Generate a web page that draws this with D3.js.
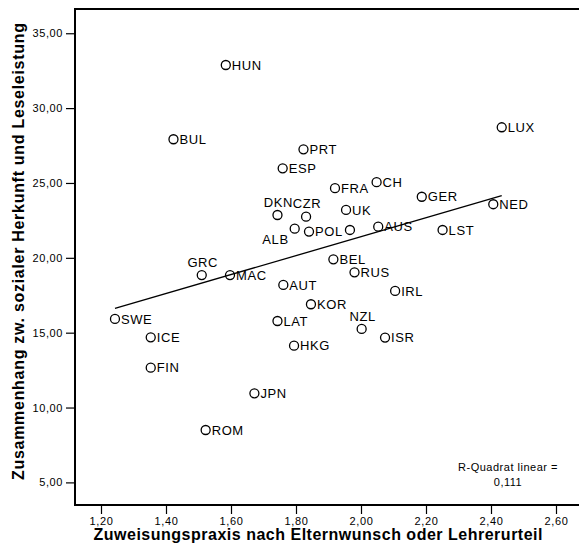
<!DOCTYPE html>
<html>
<head>
<meta charset="utf-8">
<script src="https://cdn.jsdelivr.net/npm/d3@7"></script>
<style>
  html, body { margin: 0; padding: 0; background: #fff; }
  svg { display: block; }
  text { font-family: Arial, "Liberation Sans", sans-serif; fill: #000; }
</style>
</head>
<body>
<script>
// Countries (labels), mean placement practice (x) and SES–reading gradient (y)
const countries = ["HUN","BUL","LUX","PRT","ESP","FRA","CH","GER","NED","DKN","CZR","UK",
  "ALB","POL","","AUS","LST","BEL","RUS","IRL","AUT","KOR","GRC","MAC","SWE","ICE","FIN",
  "JPN","ROM","LAT","HKG","NZL","ISR"];
const placement = [1.584,1.423,2.433,1.823,1.759,1.920,2.048,2.187,2.407,1.743,1.831,1.954,
  1.796,1.840,1.966,2.053,2.251,1.915,1.980,2.105,1.761,1.846,1.510,1.597,1.243,1.353,1.353,
  1.672,1.522,1.743,1.794,2.002,2.074];
const gradient = [32.88,27.92,28.72,27.25,25.98,24.65,25.05,24.08,23.58,22.86,22.75,23.20,
  21.95,21.75,21.86,22.08,21.86,19.90,19.03,17.79,18.19,16.90,18.85,18.85,15.92,14.69,12.66,
  10.95,8.50,15.78,14.13,15.25,14.67];
// label placement: r = right of marker, a = above, bl = below-left
const labelPos = {DKN: "a", CZR: "a", GRC: "a", NZL: "a", ALB: "bl"};

// Linear fit: intercept, slope; R² as reported
const fitCoef = [8.77, 6.32];
const rSquared = "0,111";

const xTicks = [1.2,1.4,1.6,1.8,2.0,2.2,2.4,2.6];
const yTicks = [5,10,15,20,25,30,35];

const xTitle = "Zuweisungspraxis nach Elternwunsch oder Lehrerurteil";
const yTitle = "Zusammenhang zw. sozialer Herkunft und Leseleistung";

(function () {
  const W = 579, H = 555;
  const mLeft = 75, mTop = 9, mBottom = 505, mRight = 582;

  const svg = d3.select("body").append("svg").attr("width", W).attr("height", H);

  const x = d3.scaleLinear().domain([1.12, 2.68]).range([mLeft, mRight]);
  const y = d3.scaleLinear().domain([3.49, 36.62]).range([mBottom, mTop]);

  const fmt = v => d3.format(".2f")(v).replace(".", ",");

  // axes
  const xAxis = svg.append("g").attr("transform", `translate(0,${mBottom})`)
    .call(d3.axisBottom(x).tickValues(xTicks).tickFormat(fmt).tickSize(9).tickPadding(3).tickSizeOuter(0));
  const yAxis = svg.append("g").attr("transform", `translate(${mLeft},0)`)
    .call(d3.axisLeft(y).tickValues(yTicks).tickFormat(fmt).tickSize(9).tickPadding(3).tickSizeOuter(0));
  [xAxis, yAxis].forEach(g => {
    g.select(".domain").remove();
    g.selectAll(".tick line").attr("stroke", "#000").attr("stroke-width", 1.2);
    g.selectAll(".tick text").attr("font-size", 11).style("letter-spacing", "0.6px")
      .attr("font-family", "Arial, 'Liberation Sans', sans-serif").attr("fill", "#000");
  });

  // frame (left, top, bottom)
  svg.append("path")
    .attr("d", `M${mRight},${mTop}H${mLeft}V${mBottom}H${mRight}`)
    .attr("fill", "none").attr("stroke", "#000").attr("stroke-width", 2);

  // regression line across the data range
  const [xmin, xmax] = d3.extent(placement);
  const fitY = v => fitCoef[0] + fitCoef[1] * v;
  svg.append("line")
    .attr("x1", x(xmin)).attr("y1", y(fitY(xmin)))
    .attr("x2", x(xmax)).attr("y2", y(fitY(xmax)))
    .attr("stroke", "#000").attr("stroke-width", 1.3);

  // points
  const pts = countries.map((c, i) => ({c, vx: placement[i], vy: gradient[i]}));
  svg.append("g").selectAll("circle").data(pts).join("circle")
    .attr("cx", d => x(d.vx)).attr("cy", d => y(d.vy)).attr("r", 4.5)
    .attr("fill", "none").attr("stroke", "#000").attr("stroke-width", 1.3);

  // labels
  svg.append("g").selectAll("text").data(pts.filter(d => d.c)).join("text")
    .attr("font-size", 13).style("letter-spacing", "0.6px")
    .each(function (d) {
      const t = d3.select(this), px = x(d.vx), py = y(d.vy), pos = labelPos[d.c] || "r";
      if (pos === "a") t.attr("x", px + 1).attr("y", py - 13).attr("text-anchor", "middle");
      else if (pos === "bl") t.attr("x", px - 6).attr("y", py + 11).attr("text-anchor", "end");
      else t.attr("x", px + 6).attr("y", py).attr("text-anchor", "start");
    })
    .attr("dy", "0.36em")
    .text(d => d.c);

  // R² annotation
  const ann = svg.append("text").attr("x", 508).attr("y", 471).attr("text-anchor", "middle")
    .attr("font-size", 11).style("letter-spacing", "0.5px");
  ann.append("tspan").attr("x", 508).text("R-Quadrat linear =");
  ann.append("tspan").attr("x", 508).attr("dy", 15).text(rSquared);

  // axis titles
  svg.append("text").attr("x", 318).attr("y", 540).attr("text-anchor", "middle")
    .attr("font-size", 16).attr("font-weight", "bold")
    .attr("textLength", 449).attr("lengthAdjust", "spacing").text(xTitle);
  svg.append("text").attr("transform", "translate(24,251.5) rotate(-90)").attr("text-anchor", "middle")
    .attr("font-size", 16).attr("font-weight", "bold")
    .attr("textLength", 457).attr("lengthAdjust", "spacing").text(yTitle);
})();
</script>
</body>
</html>
